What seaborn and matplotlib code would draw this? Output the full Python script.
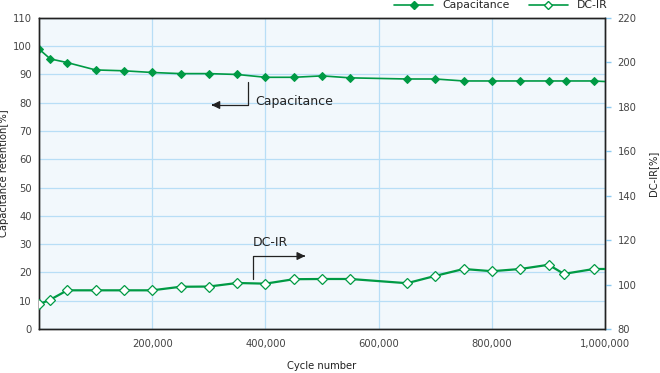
import numpy as np
import pandas as pd
import seaborn as sns
import matplotlib.pyplot as plt
from matplotlib.lines import Line2D

sns.set_theme(style="white")
plt.rcParams['font.family'] = ['DejaVu Sans']

# Capacitance retention data [%]
cap_cycles = [0, 20000, 50000, 100000, 150000, 200000, 250000, 300000, 350000,
              400000, 450000, 500000, 550000, 650000, 700000, 750000, 800000,
              850000, 900000, 930000, 980000, 1020000]
cap_values = [99.0, 95.5, 94.2, 91.6, 91.3, 90.7, 90.3, 90.3, 90.0,
              89.0, 89.0, 89.5, 88.8, 88.4, 88.4, 87.7, 87.7,
              87.7, 87.7, 87.7, 87.7, 87.3]

# DC-IR data [%]
dcir_cycles = [0, 20000, 50000, 100000, 150000, 200000, 250000, 300000, 350000,
               400000, 450000, 500000, 550000, 650000, 700000, 750000, 800000,
               850000, 900000, 927000, 980000, 1020000]
dcir_values = [91.1, 93.2, 97.4, 97.4, 97.4, 97.4, 99.0, 99.1, 100.7,
               100.4, 102.4, 102.5, 102.5, 100.6, 103.9, 107.0, 106.0,
               107.0, 108.9, 104.8, 107.0, 107.0]

x_ticks = [200000, 400000, 600000, 800000, 1000000]
x_labels = ["200,000", "400,000", "600,000", "800,000", "1,000,000"]

cap = pd.DataFrame({"cycle": cap_cycles, "value": cap_values})
dcir = pd.DataFrame({"cycle": dcir_cycles, "value": dcir_values})

green = "#009a44"
grid_col = "#b8def6"
text_col = "#444444"
fs = 7.2

fig = plt.figure(figsize=(6.6, 3.73), dpi=100)
ax = fig.add_axes([0.059, 0.118, 0.858, 0.834])
ax.set_facecolor("#f2f8fc")

# capacitance on the left axis
sns.lineplot(data=cap, x="cycle", y="value", ax=ax, color=green, lw=1.2,
             marker="D", markersize=4.3, markeredgecolor=green, markerfacecolor=green,
             zorder=5)
ax.set_xlim(0, 1000000)
ax.set_ylim(0, 110)
ax.set_yticks(np.arange(0, 111, 10))
ax.set_xticks(x_ticks)
ax.set_xticklabels(x_labels)
ax.grid(True, color=grid_col, lw=0.9)
ax.set_axisbelow(True)
ax.tick_params(axis="both", length=0, labelsize=fs, colors=text_col, pad=5)
ax.tick_params(axis="x", pad=7)
ax.set_xlabel("Cycle number", fontsize=fs, labelpad=9, color="#222222")
ax.set_ylabel("Capacitance retention[%]", fontsize=fs, labelpad=3, color="#222222")
for s in ax.spines.values():
    s.set_color("#222222")
    s.set_linewidth(1.0)

# DC-IR on the right axis
ax2 = ax.twinx()
sns.lineplot(data=dcir, x="cycle", y="value", ax=ax2, color=green, lw=1.6,
             marker="D", markersize=4.8, markeredgecolor=green, markerfacecolor="white",
             markeredgewidth=0.9, zorder=5)
ax2.set_xlim(0, 1000000)
ax2.set_ylim(80, 220)
ax2.set_yticks(np.arange(80, 221, 20))
ax2.tick_params(axis="y", length=4, width=1, labelsize=fs, colors=text_col, pad=5)
ax2.tick_params(axis="y", color="#8ccaf0")
ax2.set_ylabel("DC-IR[%]", fontsize=fs, labelpad=8, color="#222222")
ax2.grid(False)
for s in ax2.spines.values():
    s.set_color("#222222")
    s.set_linewidth(1.0)

# annotations
ax.plot([369000, 369000, 307000], [87.4, 79.2, 79.2], color="#222222", lw=0.9)
ax.annotate("", xy=(300000, 79.2), xytext=(312000, 79.2),
            arrowprops=dict(arrowstyle="-|>", color="#222222", lw=0.9,
                            mutation_scale=12))
ax.text(382000, 80.5, "Capacitance", fontsize=9, color="#222222", va="center")

ax.plot([378000, 378000, 465000], [17.7, 25.8, 25.8], color="#222222", lw=0.9)
ax.annotate("", xy=(475000, 25.8), xytext=(462000, 25.8),
            arrowprops=dict(arrowstyle="-|>", color="#222222", lw=0.9,
                            mutation_scale=12))
ax.text(377000, 30.5, "DC-IR", fontsize=9, color="#222222", va="center")

handles = [
    Line2D([], [], color=green, marker="D", markersize=4.5, markerfacecolor=green, lw=1.2),
    Line2D([], [], color=green, marker="D", markersize=4.5, markerfacecolor="white", lw=1.2),
]
fig.legend(handles, ["Capacitance", "DC-IR"], loc="upper right",
           bbox_to_anchor=(0.935, 1.025), ncol=2, frameon=False, fontsize=7.8,
           handlelength=3.6, columnspacing=1.8)

fig.savefig("out.png", dpi=100)
